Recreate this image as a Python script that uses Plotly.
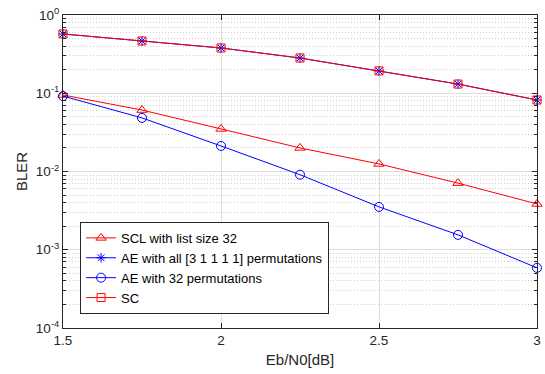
import plotly.graph_objects as go

ebn0 = [1.5, 1.75, 2.0, 2.25, 2.5, 2.75, 3.0]
scl32 = [0.095, 0.061, 0.035, 0.020, 0.0125, 0.0071, 0.00385]
ae_all = [0.572, 0.466, 0.379, 0.282, 0.193, 0.131, 0.082]
ae_32 = [0.092, 0.0484, 0.0212, 0.0091, 0.00353, 0.00155, 0.000587]
sc = [0.572, 0.466, 0.379, 0.282, 0.193, 0.131, 0.082]

ytick_vals = [1e-4, 1e-3, 1e-2, 1e-1, 1]
ytick_text = ["10<sup>-4</sup>", "10<sup>-3</sup>", "10<sup>-2</sup>", "10<sup>-1</sup>", "10<sup>0</sup>"]
xtick_vals = [1.5, 2, 2.5, 3]
xtick_text = ["1.5", "2", "2.5", "3"]

RED = "#ff0000"
BLUE = "#0000ff"

fig = go.Figure()
fig.add_trace(go.Scatter(x=ebn0, y=scl32, mode="lines+markers", name="SCL with list size 32",
                         line=dict(color=RED, width=1), cliponaxis=False,
                         marker=dict(symbol="triangle-up-open", size=9, color=RED, line=dict(width=1))))
fig.add_trace(go.Scatter(x=ebn0, y=ae_all, mode="lines+markers", name="AE with all [3 1 1 1 1] permutations",
                         line=dict(color=BLUE, width=1), cliponaxis=False,
                         marker=dict(symbol="asterisk-open", size=8, color=BLUE, line=dict(width=1, color=BLUE))))
fig.add_trace(go.Scatter(x=ebn0, y=ae_32, mode="lines+markers", name="AE with 32 permutations",
                         line=dict(color=BLUE, width=1), cliponaxis=False,
                         marker=dict(symbol="circle-open", size=9, color=BLUE, line=dict(width=1))))
fig.add_trace(go.Scatter(x=ebn0, y=sc, mode="lines+markers", name="SC",
                         line=dict(color=RED, width=1), cliponaxis=False,
                         marker=dict(symbol="square-open", size=8, color=RED, line=dict(width=1))))

axis_color = "#262626"
grid_color = "#dedede"
font_fam = "Liberation Sans, Arial, sans-serif"

fig.update_layout(
    width=545, height=374,
    margin=dict(l=63, r=4, t=15, b=46),
    paper_bgcolor="white", plot_bgcolor="white",
    font=dict(family=font_fam, size=13, color=axis_color),
    showlegend=True,
    legend=dict(x=0.036, y=0.045, xanchor="left", yanchor="bottom",
                bgcolor="white", bordercolor=axis_color, borderwidth=1,
                font=dict(size=13, color="#000000"), tracegroupgap=0, itemwidth=30),
    xaxis=dict(range=[1.5, 3], tickvals=xtick_vals, ticktext=xtick_text,
               showline=True, linecolor=axis_color, linewidth=1, mirror="ticks",
               ticks="inside", ticklen=5, tickcolor=axis_color,
               tickfont=dict(size=13.5),
               showgrid=True, gridcolor=grid_color, gridwidth=1, zeroline=False,
               title=dict(text="Eb/N0[dB]", standoff=7, font=dict(size=15))),
    yaxis=dict(type="log", range=[-4, 0], tickvals=ytick_vals, ticktext=ytick_text,
               showline=True, linecolor=axis_color, linewidth=1, mirror="ticks",
               ticks="inside", ticklen=5, tickcolor=axis_color,
               tickfont=dict(size=13.5),
               showgrid=True, gridcolor=grid_color, gridwidth=1, zeroline=False,
               minor=dict(tickvals=[m * 10 ** e for e in range(-4, 0) for m in range(2, 10)],
                          ticks="inside", ticklen=3, tickcolor=axis_color,
                          showgrid=True, gridcolor="#cfcfcf", griddash="1px,2px", gridwidth=1),
               title=dict(text="BLER", standoff=4, font=dict(size=15))),
)

fig.write_html("out.html", config={"displayModeBar": False},
               post_script="document.body.style.margin='0';document.body.style.overflow='hidden';")
